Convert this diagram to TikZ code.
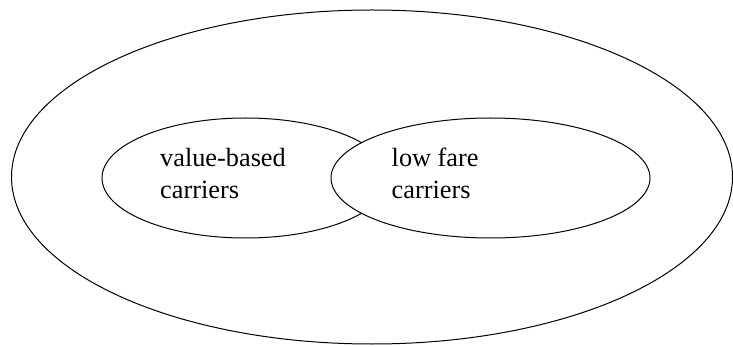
\documentclass[tikz,border=0pt]{standalone}
\usepackage{fontspec}
\setmainfont{Liberation Serif}
\begin{document}
\begin{tikzpicture}[x=1pt,y=-1pt,
  ring/.style={draw=black,line width=1pt},
  lbl/.style={anchor=base west,align=left,inner sep=0pt,font=\fontsize{26.3}{32}\selectfont}]
\useasboundingbox (0,0) rectangle (733,347);
\draw[ring] (372,177) ellipse [x radius=360.5, y radius=167];
\draw[ring] (245.5,178) ellipse [x radius=143.5, y radius=60];
\draw[ring,fill=white] (490.5,178) ellipse [x radius=159.5, y radius=60];
\node[lbl] (vb) at (160,199) {value-based\\carriers};
\node[lbl] (lf) at (391.5,199) {low fare\\carriers};
\end{tikzpicture}
\end{document}
